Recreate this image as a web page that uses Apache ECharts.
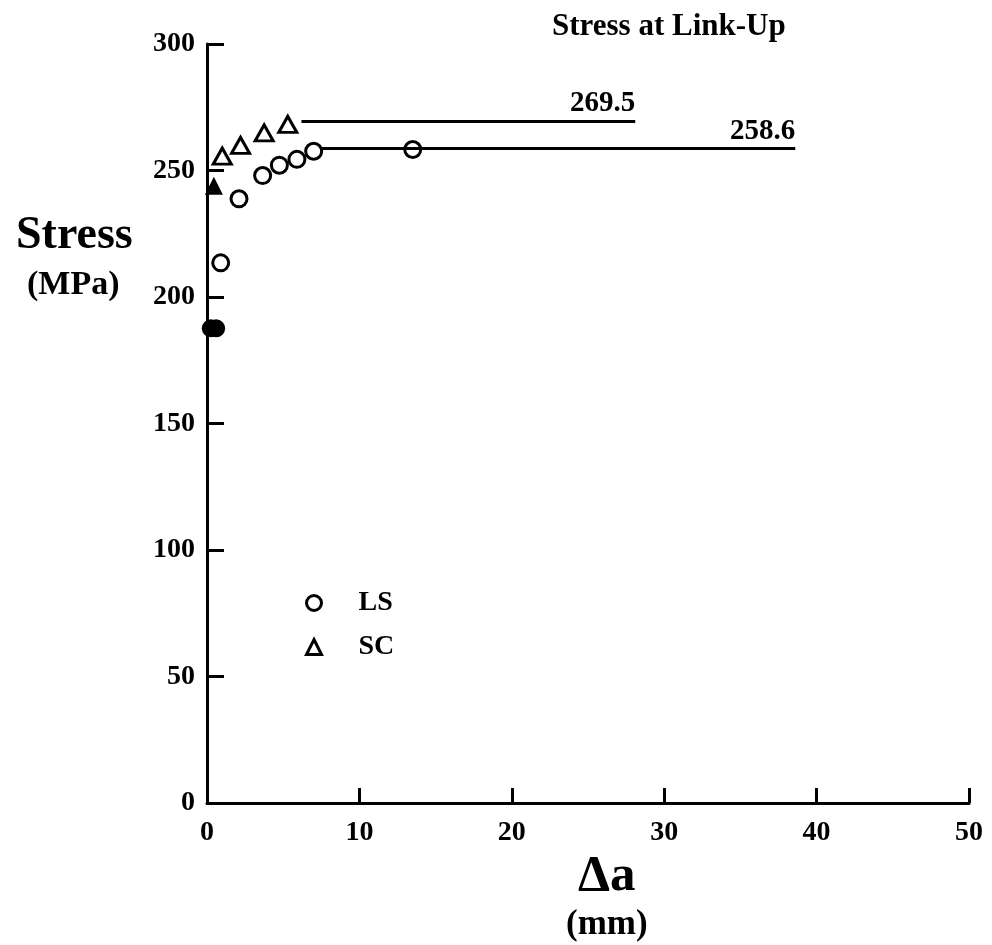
<!DOCTYPE html>
<html>
<head>
<meta charset="utf-8">
<script src="https://cdn.jsdelivr.net/npm/echarts@6/dist/echarts.min.js"></script>
<style>
  html, body { margin: 0; padding: 0; background: #fff; }
  #chart { width: 992px; height: 945px; }
</style>
</head>
<body>
<div id="chart"></div>
<script>
// Link-up stress versus crack extension for the two specimen types
var lsDelta  = [0.9, 2.1, 3.65, 4.75, 5.9, 7.0, 13.5];
var lsStress = [213.5, 238.8, 248.0, 252.1, 254.4, 257.6, 258.3];
var scDelta  = [1.0, 2.2, 3.75, 5.3];
var scStress = [255.7, 259.9, 264.9, 268.2];

// Solid symbols sitting on the stress axis
var lsSolidDelta  = [0.25, 0.6];
var lsSolidStress = [187.6, 187.6];
var scSolidDelta  = [0.45];
var scSolidStress = [244.0];

// Plateau levels and the span of each level line
var levelLS = 258.6;
var levelLSSpan = [7.5, 38.6];
var levelSC = 269.5;
var levelSCSpan = [6.2, 28.1];

var xTicks = [0, 10, 20, 30, 40, 50];
var yTicks = [0, 50, 100, 150, 200, 250, 300];

function pairs(xs, ys) {
  return xs.map(function (x, i) { return [x, ys[i]]; });
}

var FONT = '"Liberation Serif", "Times New Roman", serif';

function levelLine(level, span) {
  return {
    silent: true,
    symbol: 'none',
    lineStyle: { color: '#000', width: 3, type: 'solid', opacity: 1 },
    label: {
      show: true,
      position: 'insideEndTop',
      formatter: level.toFixed(1),
      color: '#000',
      fontFamily: FONT,
      fontWeight: 'bold',
      fontSize: 29,
      distance: [0, 3]
    },
    data: [[{ coord: [span[0], level] }, { coord: [span[1], level] }]]
  };
}

var chart = echarts.init(document.getElementById('chart'));

chart.setOption({
  backgroundColor: '#fff',
  animation: false,
  title: [
    { text: 'Stress at Link-Up', left: 547, top: 6,
      textStyle: { fontFamily: FONT, fontWeight: 'bold', fontSize: 31, color: '#000' } },
    { text: 'Stress', left: 11, top: 208,
      textStyle: { fontFamily: FONT, fontWeight: 'bold', fontSize: 46, color: '#000' } },
    { text: '(MPa)', left: 22, top: 263,
      textStyle: { fontFamily: FONT, fontWeight: 'bold', fontSize: 34, color: '#000' } },
    { text: '\u0394a', left: 573, top: 846,
      textStyle: { fontFamily: FONT, fontWeight: 'bold', fontSize: 51, color: '#000' } },
    { text: '(mm)', left: 561, top: 902,
      textStyle: { fontFamily: FONT, fontWeight: 'bold', fontSize: 35, color: '#000' } }
  ],
  legend: {
    orient: 'vertical',
    left: 300,
    top: 584,
    itemGap: 16,
    itemWidth: 15,
    itemHeight: 15,
    data: ['LS', 'SC'],
    itemStyle: { borderWidth: 3, borderColor: '#000', color: '#fff' },
    textStyle: { fontFamily: FONT, fontWeight: 'bold', fontSize: 28, color: '#000', padding: [0, 0, 0, 32] }
  },
  grid: { left: 207, right: 23, top: 44, bottom: 142, containLabel: false },
  xAxis: {
    type: 'value', min: 0, max: 50, interval: 10,
    axisLine: { show: true, lineStyle: { color: '#000', width: 3 } },
    axisTick: { show: true, inside: true, length: 15, lineStyle: { color: '#000', width: 3 } },
    axisLabel: { color: '#000', fontFamily: FONT, fontWeight: 'bold', fontSize: 28, margin: 16,
      formatter: function (v) { return xTicks.indexOf(v) >= 0 ? String(v) : ''; } },
    splitLine: { show: false }
  },
  yAxis: {
    type: 'value', min: 0, max: 300, interval: 50,
    axisLine: { show: true, lineStyle: { color: '#000', width: 3 } },
    axisTick: { show: true, inside: true, length: 17, lineStyle: { color: '#000', width: 3 } },
    axisLabel: { color: '#000', fontFamily: FONT, fontWeight: 'bold', fontSize: 28, margin: 12,
      formatter: function (v) { return yTicks.indexOf(v) >= 0 ? String(v) : ''; } },
    splitLine: { show: false }
  },
  series: [
    {
      name: 'LS', type: 'scatter', symbol: 'circle', symbolSize: 16,
      itemStyle: { color: '#fff', borderColor: '#000', borderWidth: 3, opacity: 1 },
      data: pairs(lsDelta, lsStress),
      z: 3,
      markLine: levelLine(levelLS, levelLSSpan)
    },
    {
      name: 'SC', type: 'scatter', symbol: 'triangle', symbolSize: [18, 16],
      itemStyle: { color: '#fff', borderColor: '#000', borderWidth: 3, opacity: 1 },
      data: pairs(scDelta, scStress),
      z: 3,
      markLine: levelLine(levelSC, levelSCSpan)
    },
    {
      name: 'LS solid', type: 'scatter', symbol: 'circle', symbolSize: 18,
      itemStyle: { color: '#000', opacity: 1 },
      data: pairs(lsSolidDelta, lsSolidStress),
      z: 4
    },
    {
      name: 'SC solid', type: 'scatter', symbol: 'triangle', symbolSize: [18, 18],
      itemStyle: { color: '#000', opacity: 1 },
      data: pairs(scSolidDelta, scSolidStress),
      z: 4
    }
  ]
});
</script>
</body>
</html>
